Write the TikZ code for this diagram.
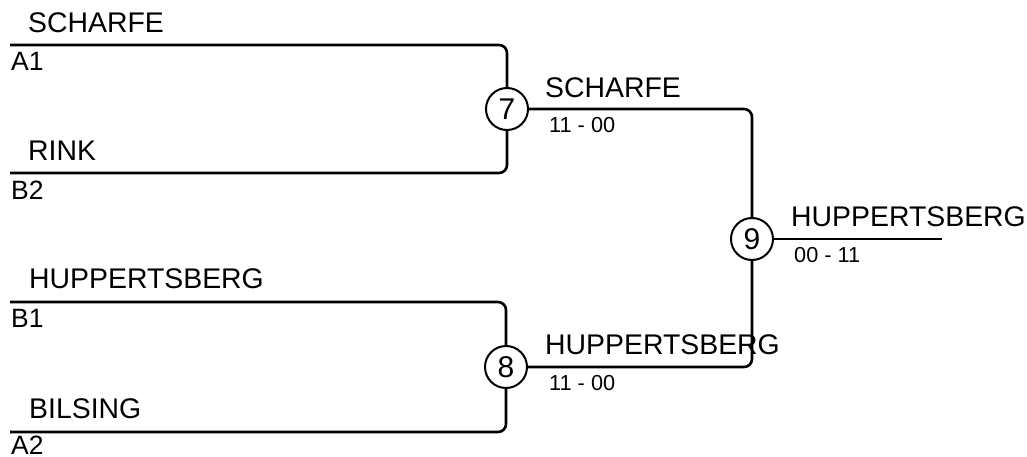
\documentclass[tikz,border=0pt]{standalone}
\usepackage{fontspec}
\setmainfont{Liberation Sans}
\begin{document}
\begin{tikzpicture}[x=1pt,y=-1pt,
  wire/.style={line width=2.6pt, rounded corners=8pt},
  game/.style={circle, draw, line width=2pt, minimum size=42pt, inner sep=0pt, font=\fontsize{30}{30}\selectfont},
  team/.style={anchor=base west, inner sep=0pt, font=\fontsize{28.4}{29}\selectfont},
  tag/.style={anchor=base west, inner sep=0pt, font=\fontsize{26.5}{27}\selectfont},
  score/.style={anchor=base west, inner sep=0pt, font=\fontsize{21.7}{22}\selectfont}]
\useasboundingbox (0,0) rectangle (1027,457);
% game circles
\node[game] (c7) at (507,109) {7};
\node[game] (c8) at (506,367) {8};
\node[game] (c9) at (752,239) {9};
% line starts
\coordinate (a1) at (10,45);
\coordinate (b2) at (10,173);
\coordinate (b1) at (10,302);
\coordinate (a2) at (10,432);
\coordinate (w9) at (942,239);
% wires
\draw[wire] (a1) -| (c7.north);
\draw[wire] (b2) -| (c7.south);
\draw[wire] (b1) -| (c8.north);
\draw[wire] (a2) -| (c8.south);
\draw[wire] (c7.east) -| (c9.north);
\draw[wire] (c8.east) -| (c9.south);
\draw[wire] (c9.east) -- (w9);
% labels
\node[team] (t1) at (28,33) {SCHARFE};
\node[tag] (s1) at (11,71) {A1};
\node[team] (t2) at (28,161) {RINK};
\node[tag] (s2) at (11,199) {B2};
\node[team] (t3) at (29,288) {HUPPERTSBERG};
\node[tag] (s3) at (11,327) {B1};
\node[team] (t4) at (29,418) {BILSING};
\node[tag] (s4) at (11,454.5) {A2};
\node[team] (t7) at (545,98) {SCHARFE};
\node[score] (r7) at (549,133) {11 - 00};
\node[team] (t8) at (545,354) {HUPPERTSBERG};
\node[score] (r8) at (549,390) {11 - 00};
\node[team] (t9) at (791,226) {HUPPERTSBERG};
\node[score] (r9) at (794,262) {00 - 11};
\end{tikzpicture}
\end{document}
